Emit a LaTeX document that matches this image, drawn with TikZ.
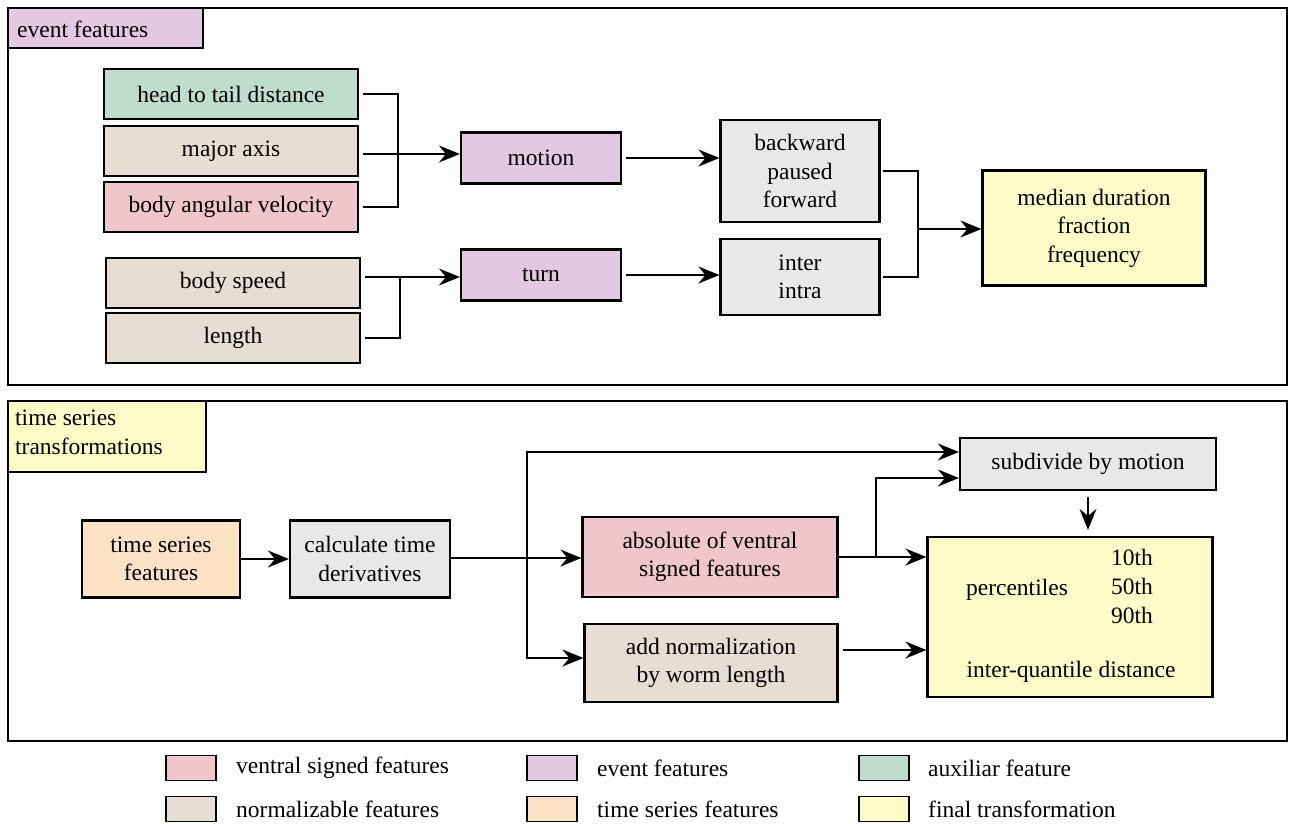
\documentclass[tikz,border=0pt]{standalone}
\usepackage{fontspec}
\setmainfont{Liberation Serif}
\usetikzlibrary{arrows.meta}

\definecolor{evtcol}{HTML}{E3C8E3}
\definecolor{auxcol}{HTML}{BFDCCF}
\definecolor{normcol}{HTML}{E6DDD3}
\definecolor{ventcol}{HTML}{EFC6CB}
\definecolor{opcol}{HTML}{E8E8E8}
\definecolor{fincol}{HTML}{FEFBC8}
\definecolor{tscol}{HTML}{FDE3C6}

\tikzset{
  box/.style={draw, line width=2.2pt, inner sep=2pt, align=center},
  frame/.style={draw, line width=2.5pt},
  conn/.style={line width=1.8pt},
  arr/.style={conn, -{Stealth[length=21pt,width=17pt,inset=7pt]}},
  swatch/.style={draw, line width=1.6pt, minimum width=50, minimum height=25},
  legtext/.style={anchor=west, inner sep=0pt}
}

\begin{document}
\begin{tikzpicture}[x=1pt, y=-1pt, every node/.style={font=\rmfamily\fontsize{23.5}{28.5}\selectfont}]
  \useasboundingbox (0,0) rectangle (1293,823);

  % Event frame
  \draw[frame] (8,8) rectangle (1287,385);
  \draw[frame, fill=evtcol] (8,8) rectangle (203,48);
  \node[anchor=west, inner sep=0pt] (evtlbl) at (17,29) {event features};

  % Event inputs
  \node[box, fill=auxcol, minimum width=254, minimum height=50] (htt) at (231,94) {head to tail distance};
  \node[box, fill=normcol, minimum width=254, minimum height=50] (maj) at (231,151) {major axis};
  \node[box, fill=ventcol, minimum width=254, minimum height=50] (bav) at (231,207) {body angular velocity};
  \node[box, fill=normcol, minimum width=254, minimum height=50] (bsp) at (233,283) {body speed};
  \node[box, fill=normcol, minimum width=254, minimum height=50] (len) at (233,338) {length};

  % Events
  \node[box, fill=evtcol, minimum width=160, minimum height=51] (mot) at (541,158) {motion};
  \node[box, fill=evtcol, minimum width=160, minimum height=51] (trn) at (541,275) {turn};
  \node[box, fill=opcol, minimum width=159, minimum height=102] (bpf) at (800,171) {backward\\paused\\forward};
  \node[box, fill=opcol, minimum width=159, minimum height=76] (ii) at (800,277) {inter\\intra};
  \node[box, fill=fincol, minimum width=223, minimum height=115] (med) at (1094,228) {median duration\\fraction\\frequency};

  % Event connectors
  \coordinate (jmot) at (398,154);
  \coordinate (jtrn) at (400,277);
  \coordinate (jfin) at (918,229);
  \draw[conn] ([xshift=4pt]htt.east) -| (jmot);
  \draw[conn] ([xshift=4pt]bav.east) -| (jmot);
  \draw[arr] ([xshift=4pt]maj.east |- jmot) -- (mot.west |- jmot);
  \draw[conn] ([xshift=4pt]len.east) -| (jtrn);
  \draw[arr] ([xshift=4pt]bsp.east |- jtrn) -- (trn.west |- jtrn);
  \draw[arr] ([xshift=4pt]mot.east) -- (bpf.west |- mot.east);
  \draw[arr] ([xshift=4pt]trn.east) -- (ii.west |- trn.east);
  \draw[conn] ([xshift=2pt]bpf.east) -| (jfin);
  \draw[conn] ([xshift=2pt]ii.east) -| (jfin);
  \draw[arr] (jfin) -- (med.west |- jfin);

  % Time series frame
  \draw[frame] (8,401) rectangle (1287,741);
  \draw[frame, fill=fincol] (8,401) rectangle (206,472);
  \node[anchor=north west, inner sep=0pt, align=left] (tslbl) at (15,410) {time series\\transformations};

  % Time series boxes
  \node[box, fill=tscol, minimum width=158, minimum height=77] (tsf) at (161,559) {time series\\features};
  \node[box, fill=opcol, minimum width=160, minimum height=77] (ctd) at (370,559) {calculate time\\derivatives};
  \node[box, fill=ventcol, minimum width=255, minimum height=80] (abs) at (710,557) {absolute of ventral\\signed features};
  \node[box, fill=normcol, minimum width=253, minimum height=78] (anw) at (711,663) {add normalization\\by worm length};
  \node[box, fill=opcol, minimum width=256, minimum height=52] (sub) at (1088,464) {subdivide by motion};
  \node[box, fill=fincol, minimum width=285, minimum height=160] (fin) at (1070,617) {};
  \node (pct) at (1017,590) {percentiles};
  \node (q10) at (1132,557) {10th};
  \node (q50) at (1132,586) {50th};
  \node (q90) at (1132,615) {90th};
  \node (iqd) at (1071,672) {inter-quantile distance};

  % Time series connectors
  \coordinate (jctd) at (527,558);
  \coordinate (jtop) at (527,452);
  \coordinate (jabs) at (876,557);
  \coordinate (jsub) at (876,478);
  \coordinate (janw) at (842,650);
  \coordinate (jlow) at (527,658);
  \draw[arr] (tsf.east) -- (ctd.west);
  \draw[conn] (ctd.east |- jctd) -- (jctd);
  \draw[arr] (jctd) -- (jtop) -- (sub.west |- jtop);
  \draw[arr] (jctd) -- (abs.west |- jctd);
  \draw[arr] (jctd) -- (jlow) -- (anw.west |- jlow);
  \draw[arr] (abs.east) -- (fin.west |- abs.east);
  \draw[arr] (jabs) -- (jsub) -- (sub.west |- jsub);
  \draw[arr] ([xshift=4pt]anw.east |- janw) -- (fin.west |- janw);
  \draw[arr, shorten >=6pt] ([yshift=-6pt]sub.south) -- (fin.north -| sub.south);

  % Legend
  \node[swatch, fill=ventcol] (swvent) at (191,768) {};
  \node[legtext] (lgvent) at (236,768) {ventral signed features};
  \node[swatch, fill=normcol] (swnorm) at (191,809) {};
  \node[legtext] (lgnorm) at (236,809) {normalizable features};
  \node[swatch, fill=evtcol] (swevt) at (552,768) {};
  \node[legtext] (lgevt) at (597,768) {event features};
  \node[swatch, fill=tscol] (swts) at (552,809) {};
  \node[legtext] (lgts) at (597,809) {time series features};
  \node[swatch, fill=auxcol] (swaux) at (884,768) {};
  \node[legtext] (lgaux) at (928,768) {auxiliar feature};
  \node[swatch, fill=fincol] (swfin) at (884,809) {};
  \node[legtext] (lgfin) at (928,809) {final transformation};
\end{tikzpicture}
\end{document}
